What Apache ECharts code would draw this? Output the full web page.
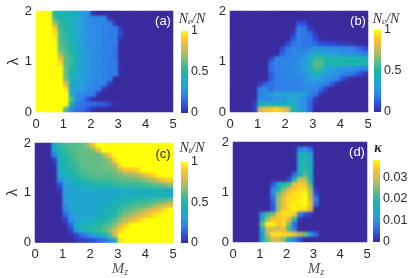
<!DOCTYPE html>
<html><head><meta charset="utf-8">
<style>html,body{margin:0;padding:0;background:#fff}
#c{position:absolute;left:0;top:0;width:415px;height:278px;filter:blur(0.3px)}
#clip{position:absolute;left:0;top:0;width:415px;height:278px;pointer-events:none;
 clip-path:path('M36 11h137v101h-137z M230 11h138v101h-138z M35 143h138v100h-138z M233 142h134v100h-134z')}
#h{width:415px;height:278px;filter:blur(1.3px)}
#t{position:absolute;left:0;top:0;width:415px;height:278px;pointer-events:none;filter:blur(0.3px)}</style>
<script src="https://cdn.jsdelivr.net/npm/echarts@6/dist/echarts.min.js"></script>
</head><body><div id="c"></div><div id="clip"><div id="h"></div></div><div id="t"></div>
<script>
// rows run from lambda 2 (top) to lambda 0 (bottom); columns run from M=0 to M=5; missing trailing cells are 0
const Ne=[
[100,100,100,50,45,44,42,38,30,26,3],
[100,100,100,55,50,46,44,38,30,26,24,24,22,3],
[100,100,100,70,54,48,44,36,30,26,24,24,22,20,3],
[100,100,100,90,56,50,44,36,30,26,24,24,22,20,20,6],
[100,100,100,95,58,52,44,38,30,26,24,24,22,20,20,8],
[100,100,100,98,58,54,46,38,30,26,24,24,22,20,20,4],
[100,100,100,100,60,56,48,38,32,26,24,24,20,20,20],
[100,100,100,100,62,58,50,40,32,28,26,24,20,20,18],
[100,100,100,100,70,60,52,42,34,28,26,24,22,20,18],
[100,100,100,100,85,60,54,42,34,28,26,24,22,20,18],
[100,100,100,100,95,60,54,42,34,28,26,24,22,20,20],
[100,100,100,100,100,62,50,40,34,28,26,24,22,20,20,2],
[100,100,100,100,100,62,46,38,32,28,26,24,22,20,20,2],
[100,100,100,100,100,65,44,36,32,28,24,24,22,20],
[100,100,100,100,100,80,40,34,30,26,24,22,20,4],
[100,100,100,100,100,95,36,30,30,24,22,20,3],
[100,100,100,100,100,100,40,26,24,22,20,3],
[100,100,100,100,100,100,60,24,20,10,2],
[100,100,100,100,100,100,45,20,18,16,16,14,12,7,2],
[100,100,100,100,100,60,22,18,16,10,3]];
const Nc=[
[],
[],
[0,0,0,0,0,0,0,0,0,0,0,0,10,10],
[0,0,0,0,0,0,0,0,0,0,0,0,20,18,5],
[0,0,0,0,0,0,0,0,0,0,0,5,22,18,15,5],
[0,0,0,0,0,0,0,0,0,0,0,12,22,18,18,8],
[0,0,0,0,0,0,0,0,0,0,8,18,20,18,18,15,10,8,8,6,5,3,2,1],
[0,0,0,0,0,0,0,0,0,8,18,22,20,20,22,28,26,26,26,24,22,22,20,15,10],
[0,0,0,0,0,0,0,0,0,14,20,22,22,24,30,40,36,32,30,30,28,26,26,22,20],
[0,0,0,0,0,0,0,6,20,22,22,22,24,28,40,55,55,45,48,48,48,48,48,48,48],
[0,0,0,0,0,0,0,18,22,22,22,24,26,30,42,60,60,45,48,48,48,48,48,48,48],
[0,0,0,0,0,0,0,16,22,22,22,24,26,30,40,58,56,36,32,30,28,28,26,24,22],
[0,0,0,0,0,0,0,14,20,20,22,24,24,28,36,42,38,30,28,26,22,20,16,10,4],
[0,0,0,0,0,0,0,12,20,22,22,22,22,26,30,32,30,26,24,20,10,3],
[0,0,0,0,0,5,14,18,20,20,20,20,22,24,26,26,24,20,12,3],
[0,0,0,0,2,20,24,16,20,20,22,22,22,24,24,22,16,4],
[0,0,0,0,0,20,26,30,34,32,34,34,34,34,22,18,5],
[0,0,0,0,0,25,24,24,28,28,36,36,30,24,18,5],
[0,0,0,0,5,40,44,44,42,40,44,42,30,26,16,2],
[0,0,0,0,5,78,86,90,92,88,76,50,38,28,16]];
const Nt=[
[0,0,0,38,52,56,60,60,62,68,88,100,100,100,100,100,100,100,100,100,100,100,100,100,100],
[0,0,0,35,48,54,58,60,62,62,66,85,100,100,100,100,100,100,100,100,100,100,100,100,100],
[0,0,0,20,44,52,56,60,62,62,62,62,70,88,100,100,100,100,100,100,100,100,100,100,100],
[0,0,0,5,40,50,54,58,62,62,62,62,64,68,92,100,100,100,100,100,100,100,100,100,100],
[0,0,0,2,40,48,52,56,60,62,62,62,64,66,72,95,100,100,100,100,100,100,100,100,100],
[0,0,0,0,38,44,50,54,58,60,62,62,62,64,66,76,88,90,92,100,100,100,100,100,100],
[0,0,0,0,36,40,46,52,56,58,60,60,60,60,62,64,68,70,72,80,88,92,100,100,100],
[0,0,0,0,24,36,40,46,50,52,54,56,56,56,58,60,60,62,62,64,68,72,80,88,92],
[0,0,0,0,10,32,36,38,42,44,46,46,48,50,52,54,54,54,54,56,58,60,62,64,68],
[0,0,0,0,3,30,34,36,38,38,38,38,38,38,38,38,40,40,42,44,44,44,44,42,40],
[0,0,0,0,2,30,34,36,36,36,36,36,36,36,38,38,40,40,42,42,42,42,42,42,42],
[0,0,0,0,0,30,34,36,36,36,36,36,38,38,40,44,48,50,52,52,54,56,58,60,64],
[0,0,0,0,0,26,34,36,36,36,36,38,38,40,44,48,54,56,58,60,62,66,72,78,84],
[0,0,0,0,0,22,32,36,36,36,36,38,40,44,48,54,60,62,66,72,78,84,90,96,100],
[0,0,0,0,0,14,30,34,34,36,38,38,42,46,52,60,68,72,78,82,88,94,98,100,100],
[0,0,0,0,0,6,24,32,36,38,40,46,50,54,60,68,76,82,90,96,100,100,100,100,100],
[0,0,0,0,0,0,14,38,44,46,50,52,56,60,66,80,92,100,100,100,100,100,100,100,100],
[0,0,0,0,0,0,6,30,44,48,52,54,58,66,78,92,100,100,100,100,100,100,100,100,100],
[0,0,0,0,0,0,1,6,16,22,30,38,46,58,78,100,100,100,100,100,100,100,100,100,100],
[0,0,0,0,0,0,0,4,6,8,10,14,18,24,40,96,100,100,100,100,100,100,100,100,100]];
const Kappa=[
[],
[0,0,0,0,0,0,0,0,0,0,0,0,8,10,6],
[0,0,0,0,0,0,0,0,0,0,0,0,14,18,12],
[0,0,0,0,0,0,0,0,0,0,0,0,15,18,14],
[0,0,0,0,0,0,0,0,0,0,0,0,14,20,15],
[0,0,0,0,0,0,0,0,0,0,0,0,15,20,16],
[0,0,0,0,0,0,0,0,0,0,0,6,14,22,16],
[0,0,0,0,0,0,0,0,0,0,3,16,28,28,16],
[0,0,0,0,0,0,0,4,14,18,22,32,34,34,22],
[0,0,0,0,0,0,0,8,16,24,30,34,36,36,26,2],
[0,0,0,0,0,0,0,8,24,30,35,36,36,38,28,4],
[0,0,0,0,0,0,0,6,26,32,36,36,37,38,30,8],
[0,0,0,0,0,0,0,5,26,32,36,37,37,38,32,6],
[0,0,0,0,0,0,0,4,26,34,36,37,36,36,30],
[0,0,0,0,0,10,22,24,34,36,36,34,8,4,2],
[0,0,0,0,0,16,26,34,34,35,32,20,2],
[0,0,0,0,0,24,37,37,34,36,24,6],
[0,0,0,0,0,16,30,30,30,32,22,8],
[0,0,0,0,0,10,28,36,36,35,35,32,28,24,12,6],
[0,0,0,0,0,14,24,30,30,26,14,8,4]];
const neBar=[1],ncBar=[1],ntBar=[1],kappaBar=[0.038];

const stopColors=['#3a2b9e','#2f4fe0','#2f7fe8','#2a9ce0','#1aaec0','#1eb5a8','#55bc8a','#a0be6a','#dcbb50','#fcc52a','#ffff0a'];
const gradStops=stopColors.map((c,i)=>({offset:i/(stopColors.length-1),color:c}));
const frames=[
 {l:36,t:11,w:137,h:101,cb:{l:181,t:31,w:7,h:82},rows:Ne,scale:0.01,max:1,bar:neBar,int:0.5,maxLabel:true},
 {l:230,t:11,w:138,h:101,cb:{l:374,t:30,w:7,h:82},rows:Nc,scale:0.01,max:1,bar:ncBar,int:0.5,maxLabel:true},
 {l:35,t:143,w:138,h:100,cb:{l:181,t:162,w:7,h:81},rows:Nt,scale:0.01,max:1,bar:ntBar,int:0.5,maxLabel:true},
 {l:233,t:142,w:134,h:100,cb:{l:373,t:160,w:7,h:82},rows:Kappa,scale:0.001,max:0.038,bar:kappaBar,int:0.01,maxLabel:false}
];
const tickFont={fontFamily:'Liberation Sans',fontSize:13,color:'#2b2b2b'};
const grid=[],xAxis=[],yAxis=[],series=[],visualMap=[];
const hGrid=[],hX=[],hY=[],hSeries=[],hVisual=[];
const columns=[...Array(25).keys()],rowIds=[...Array(20).keys()];
frames.forEach((f,p)=>{
 const g=grid.length;
 grid.push({left:f.l,top:f.t,width:f.w,height:f.h});
 const xc=xAxis.length, yc=yAxis.length;
 xAxis.push({type:'category',gridIndex:g,show:false,data:columns});
 yAxis.push({type:'category',gridIndex:g,show:false,data:rowIds});
 xAxis.push({type:'value',gridIndex:g,position:'bottom',min:0,max:5,interval:1,splitLine:{show:false},axisLine:{show:false},axisTick:{show:false},
   axisLabel:{...tickFont,margin:6},
   name:p>=2?'{i|M}{s|z}':'',nameLocation:'middle',nameGap:18,
   nameTextStyle:{padding:[0,0,0,32],rich:{i:{fontFamily:'Liberation Serif',fontStyle:'italic',fontSize:15,color:'#555'},s:{fontFamily:'Liberation Serif',fontStyle:'italic',fontSize:10,color:'#555',verticalAlign:'bottom',padding:[5,0,0,0]}}}});
 yAxis.push({type:'value',gridIndex:g,position:'left',min:0,max:2,interval:1,splitLine:{show:false},axisLine:{show:false},axisTick:{show:false},
   axisLabel:{...tickFont,margin:4},
   name:p%2===0?'λ':'',nameLocation:'middle',nameGap:14,nameTextStyle:{fontFamily:'Liberation Sans',fontSize:15,color:'#333'}});
 const data=[];
 f.rows.forEach((row,r)=>{for(let i=0;i<25;i++){data.push([i,19-r,(row[i]||0)*f.scale]);}});
 visualMap.push({show:false,type:'continuous',seriesIndex:series.length,min:0,max:f.max,dimension:2,inRange:{color:stopColors}});
 series.push({type:'heatmap',xAxisIndex:xc,yAxisIndex:yc,data,silent:true,progressive:0,emphasis:{disabled:true}});
 hGrid.push({left:f.l,top:f.t,width:f.w,height:f.h});
 hX.push({type:'category',gridIndex:p,show:false,data:columns});
 hY.push({type:'category',gridIndex:p,show:false,data:rowIds});
 hVisual.push({show:false,type:'continuous',seriesIndex:p,min:0,max:f.max,dimension:2,inRange:{color:stopColors}});
 hSeries.push({type:'heatmap',xAxisIndex:p,yAxisIndex:p,data,silent:true,progressive:0,emphasis:{disabled:true}});
 const cg=grid.length;
 grid.push({left:f.cb.l,top:f.cb.t,width:f.cb.w,height:f.cb.h});
 const cx=xAxis.length, cy=yAxis.length;
 xAxis.push({type:'category',gridIndex:cg,show:false,data:['c']});
 yAxis.push({type:'value',gridIndex:cg,position:'right',min:0,max:f.max,interval:f.int,splitLine:{show:false},axisLine:{show:false},axisTick:{show:false},
   axisLabel:{...tickFont,fontSize:12.5,margin:3,showMaxLabel:f.maxLabel}});
 series.push({type:'bar',xAxisIndex:cx,yAxisIndex:cy,data:f.bar,barWidth:'100%',silent:true,
   itemStyle:{color:{type:'linear',x:0,y:1,x2:0,y2:0,colorStops:gradStops}}});
});
const serif={fontFamily:'Liberation Serif',fontStyle:'italic',fontWeight:'normal',fontSize:14,color:'#333'};
const sub={...serif,fontSize:9,verticalAlign:'bottom',padding:[4,0,0,0]};
function cbTitle(text,x,y){return {text,left:x,top:y,textAlign:'center',textVerticalAlign:'middle',padding:0,textStyle:{fontWeight:'normal',rich:{i:serif,s:sub}}};}
function tag(text,x,y,color){return {text,left:x,top:y,textAlign:'center',textVerticalAlign:'middle',padding:0,textStyle:{fontFamily:'Liberation Sans',fontSize:13,fontWeight:'normal',color}};}
const title=[
 cbTitle('{i|N}{s|e}{i|/N}',192,19),cbTitle('{i|N}{s|c}{i|/N}',386,19),cbTitle('{i|N}{s|t}{i|/N}',192,148),
 {text:'κ',left:378,top:148,textAlign:'center',textVerticalAlign:'middle',padding:0,textStyle:{fontFamily:'Liberation Serif',fontStyle:'italic',fontWeight:'bold',fontSize:14,color:'#222'}}
];
const tags=[tag('(a)',163,21,'#fff'),tag('(b)',358,21,'#fff'),tag('(c)',163,154,'#222'),tag('(d)',357,152,'#fff')];
const chart=echarts.init(document.getElementById('c'));
chart.setOption({animation:false,backgroundColor:'#fff',title,grid,xAxis,yAxis,visualMap,series});
// a second, softened pass of the same heatmaps: the reference's cells are shaded, not crisp
const soft=echarts.init(document.getElementById('h'));
soft.setOption({animation:false,grid:hGrid,xAxis:hX,yAxis:hY,visualMap:hVisual,series:hSeries});
// the panel letters sit above the softened pass
const letters=echarts.init(document.getElementById('t'));
letters.setOption({animation:false,title:tags});
</script></body></html>
